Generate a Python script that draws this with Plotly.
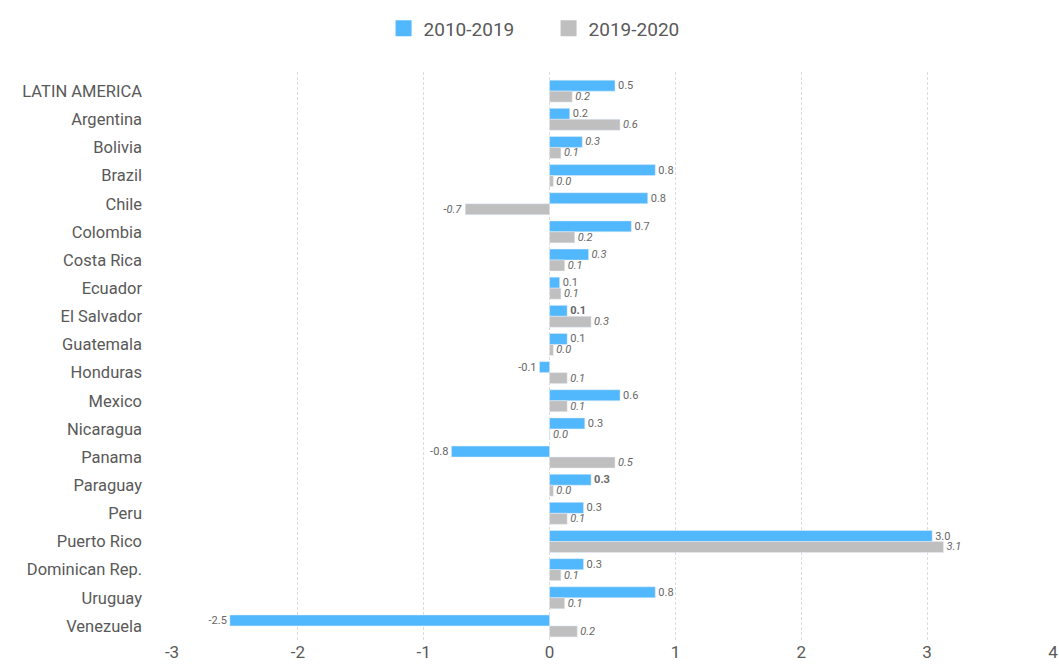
import plotly.graph_objects as go

categories = ["LATIN AMERICA", "Argentina", "Bolivia", "Brazil", "Chile", "Colombia",
              "Costa Rica", "Ecuador", "El Salvador", "Guatemala", "Honduras", "Mexico",
              "Nicaragua", "Panama", "Paraguay", "Peru", "Puerto Rico", "Dominican Rep.",
              "Uruguay", "Venezuela"]
v_2010_2019 = [0.52, 0.16, 0.26, 0.84, 0.78, 0.65, 0.31, 0.08, 0.14, 0.14, -0.08, 0.56,
               0.28, -0.78, 0.33, 0.27, 3.04, 0.27, 0.84, -2.54]
v_2019_2020 = [0.18, 0.56, 0.09, 0.03, -0.67, 0.20, 0.12, 0.09, 0.33, 0.03, 0.14, 0.14,
               0.004, 0.52, 0.03, 0.14, 3.13, 0.09, 0.12, 0.22]
blue_label_style = ["normal", "normal", "italic", "normal", "normal", "normal", "italic",
                    "normal", "normal", "normal", "normal", "normal", "normal", "normal",
                    "normal", "normal", "normal", "normal", "normal", "normal"]
blue_label_weight = [400, 400, 400, 400, 400, 400, 400, 400, 700, 400, 400, 400, 400, 400,
                     700, 400, 400, 400, 400, 400]
series_names = ["2010-2019", "2019-2020"]
x_ticks = [-3, -2, -1, 0, 1, 2, 3, 4]
x_tick_text = ["-3", "-2", "-1", "0", "1", "2", "3", "4"]

BLUE = "#52B8FD"
GRAY = "#BFBFBF"
TXT = "#666666"
FONT = "Roboto"

fig = go.Figure()
fig.add_trace(go.Bar(
    y=categories, x=v_2010_2019, orientation="h", name=series_names[0],
    marker=dict(color=BLUE), showlegend=False,
    text=[f"{v:.1f}" for v in v_2010_2019], textposition="outside",
    constraintext="none",
    textfont=dict(size=11, color=TXT, family=FONT, style=blue_label_style,
                  weight=blue_label_weight),
    cliponaxis=False,
))
fig.add_trace(go.Bar(
    y=categories, x=v_2019_2020, orientation="h", name=series_names[1],
    marker=dict(color=GRAY), showlegend=False,
    text=[f"{v:.1f}" for v in v_2019_2020], textposition="outside",
    constraintext="none",
    textfont=dict(size=11, color=TXT, family=FONT, style="italic"),
    cliponaxis=False,
))
# legend entries
for name, col in zip(series_names, [BLUE, GRAY]):
    fig.add_trace(go.Scatter(
        x=[None], y=[None], mode="markers", name=name,
        marker=dict(symbol="square", size=19, color=col),
    ))

fig.update_layout(
    width=1059, height=664,
    barmode="group", bargap=0.22, bargroupgap=0,
    plot_bgcolor="white", paper_bgcolor="white",
    margin=dict(l=172, r=6, t=72, b=24),
    font=dict(family=FONT, color=TXT),
    legend=dict(orientation="h", x=0.518, xanchor="center", xref="container",
                y=0.986, yref="container", yanchor="top",
                font=dict(size=19, color="#595959"), itemwidth=30,
                entrywidth=120, traceorder="normal"),
    xaxis=dict(range=[-3, 4], tickvals=x_ticks, ticktext=x_tick_text, showgrid=True,
               gridcolor="#DDDDDD", griddash="3px,2px", gridwidth=1, zeroline=False,
               showline=False, tickfont=dict(size=17, color="#595959"), ticks="",
               automargin=False),
    yaxis=dict(categoryorder="array", categoryarray=categories,
               range=[19.5, -0.68], autorange=False,
               showgrid=False, zeroline=False, showline=False, ticks="",
               tickfont=dict(size=16.5, color="#595959"), ticklabelstandoff=29,
               automargin=False),
)

fig.write_html("out.html")
